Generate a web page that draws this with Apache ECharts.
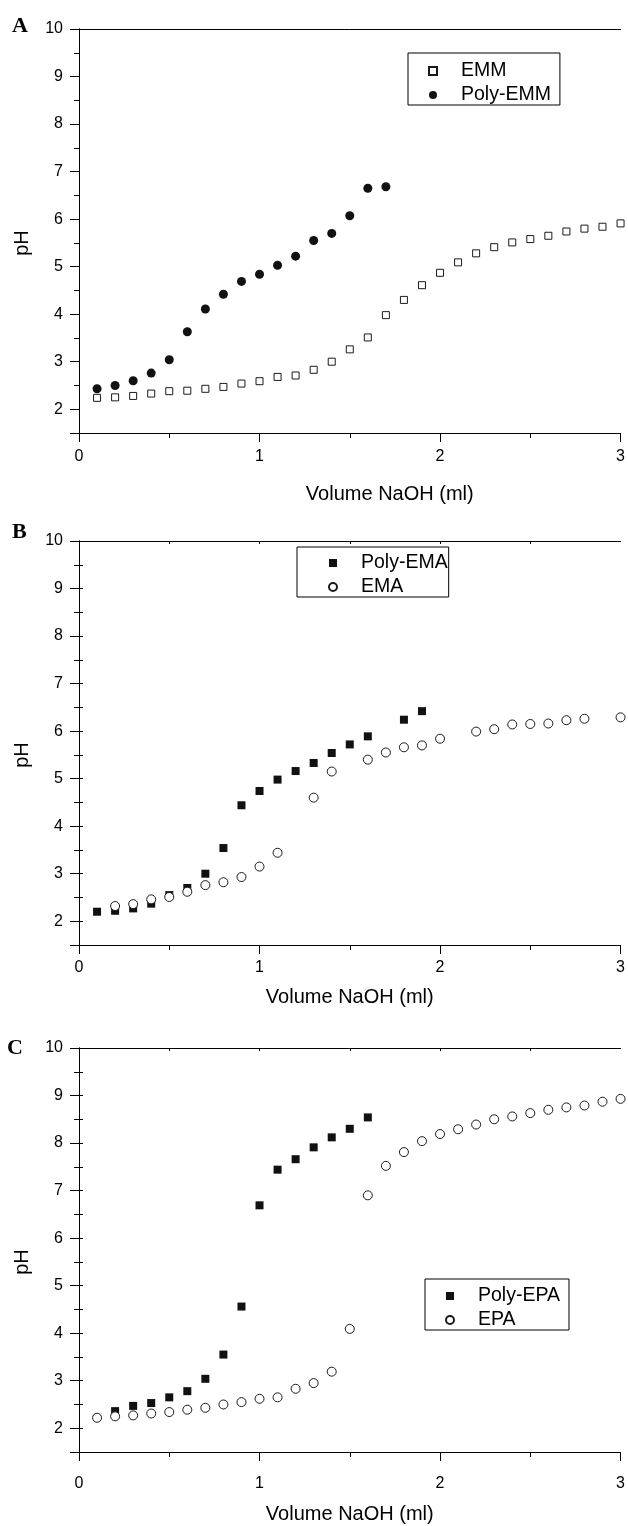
<!DOCTYPE html>
<html>
<head>
<meta charset="utf-8">
<style>
  html, body { margin: 0; padding: 0; background: #fff; }
  #main { width: 628px; height: 1526px; }
</style>
<script src="https://cdn.jsdelivr.net/npm/echarts@6/dist/echarts.min.js"></script>
</head>
<body>
<div id="main"></div>
<script>
// ---- data ----
// A
const emmX = [0.1, 0.2, 0.3, 0.4, 0.5, 0.6, 0.7, 0.8, 0.9, 1.0, 1.1, 1.2, 1.3, 1.4, 1.5, 1.6, 1.7, 1.8, 1.9, 2.0, 2.1, 2.2, 2.3, 2.4, 2.5, 2.6, 2.7, 2.8, 2.9, 3.0];
const emmPH = [2.24, 2.25, 2.28, 2.33, 2.38, 2.39, 2.43, 2.47, 2.54, 2.59, 2.68, 2.71, 2.83, 3.00, 3.26, 3.51, 3.98, 4.30, 4.61, 4.87, 5.09, 5.28, 5.41, 5.51, 5.58, 5.65, 5.74, 5.80, 5.84, 5.91];
const polyEmmX = [0.1, 0.2, 0.3, 0.4, 0.5, 0.6, 0.7, 0.8, 0.9, 1.0, 1.1, 1.2, 1.3, 1.4, 1.5, 1.6, 1.7];
const polyEmmPH = [2.43, 2.50, 2.60, 2.76, 3.04, 3.63, 4.11, 4.42, 4.69, 4.84, 5.03, 5.22, 5.55, 5.70, 6.07, 6.65, 6.68];
// B
const polyEmaX = [0.1, 0.2, 0.3, 0.4, 0.5, 0.6, 0.7, 0.8, 0.9, 1.0, 1.1, 1.2, 1.3, 1.4, 1.5, 1.6, 1.8, 1.9];
const polyEmaPH = [2.20, 2.22, 2.27, 2.37, 2.55, 2.70, 3.00, 3.54, 4.44, 4.74, 4.98, 5.16, 5.33, 5.54, 5.72, 5.89, 6.24, 6.42];
const emaX = [0.2, 0.3, 0.4, 0.5, 0.6, 0.7, 0.8, 0.9, 1.0, 1.1, 1.3, 1.4, 1.6, 1.7, 1.8, 1.9, 2.0, 2.2, 2.3, 2.4, 2.5, 2.6, 2.7, 2.8, 3.0];
const emaPH = [2.32, 2.36, 2.46, 2.51, 2.62, 2.76, 2.82, 2.93, 3.15, 3.44, 4.60, 5.15, 5.40, 5.55, 5.66, 5.70, 5.84, 5.99, 6.04, 6.14, 6.15, 6.16, 6.23, 6.26, 6.29];
// C
const polyEpaX = [0.2, 0.3, 0.4, 0.5, 0.6, 0.7, 0.8, 0.9, 1.0, 1.1, 1.2, 1.3, 1.4, 1.5, 1.6];
const polyEpaPH = [2.36, 2.47, 2.53, 2.65, 2.78, 3.04, 3.55, 4.56, 6.69, 7.44, 7.66, 7.91, 8.12, 8.30, 8.54];
const epaX = [0.1, 0.2, 0.3, 0.4, 0.5, 0.6, 0.7, 0.8, 0.9, 1.0, 1.1, 1.2, 1.3, 1.4, 1.5, 1.6, 1.7, 1.8, 1.9, 2.0, 2.1, 2.2, 2.3, 2.4, 2.5, 2.6, 2.7, 2.8, 2.9, 3.0];
const epaPH = [2.22, 2.25, 2.27, 2.31, 2.34, 2.39, 2.43, 2.50, 2.55, 2.62, 2.65, 2.83, 2.95, 3.19, 4.09, 6.90, 7.52, 7.81, 8.04, 8.19, 8.29, 8.39, 8.50, 8.56, 8.63, 8.70, 8.75, 8.79, 8.87, 8.93];

// ticks
const xMajorTicks = [0, 1, 2, 3];
const xMinorTicks = [0.5, 1.5, 2.5];
const yMajorTicks = [1.5, 2, 3, 4, 5, 6, 7, 8, 9, 10];
const yLabels = [2, 3, 4, 5, 6, 7, 8, 9, 10];
const yMinorTicks = [2.5, 3.5, 4.5, 5.5, 6.5, 7.5, 8.5, 9.5];
const topTicks = [0.5, 1, 1.5, 2, 2.5];
const rightTicks = [2, 2.5, 3, 3.5, 4, 4.5, 5, 5.5, 6, 6.5, 7, 7.5, 8, 8.5, 9, 9.5];

const FONT = '"Liberation Sans", Arial, sans-serif';
const SERIF = '"Liberation Serif", "Times New Roman", serif';
// square as a path so the legend keeps it square
const SQUARE = 'path://M0,0H10V10H0Z';

function pairs(xs, ys) {
  return xs.map((x, i) => [x, ys[i]]);
}

// panel layout
const panels = [
  { top: 29, letter: 'A', letterLeft: 12, letterTop: 15, labelMargin: 16, nameGap: 51, namePad: 80, edgeTicks: false,
    legend: { left: 408, top: 53, padding: [8, 9, 0, 20] },
    series: [
      { name: 'EMM', symbol: SQUARE, symbolSize: 7, open: true, data: pairs(emmX, emmPH) },
      { name: 'Poly-EMM', symbol: 'circle', symbolSize: 9, open: false, data: pairs(polyEmmX, polyEmmPH) }
    ] },
  { top: 541, letter: 'B', letterLeft: 12, letterTop: 521, labelMargin: 15, nameGap: 42, namePad: 0, edgeTicks: true,
    legend: { left: 297, top: 547, padding: [6, 1, 0, 31] },
    series: [
      { name: 'Poly-EMA', symbol: SQUARE, symbolSize: 8, open: false, data: pairs(polyEmaX, polyEmaPH) },
      { name: 'EMA', symbol: 'circle', symbolSize: 9, open: true, data: pairs(emaX, emaPH) }
    ] },
  { top: 1048, letter: 'C', letterLeft: 7, letterTop: 1037, labelMargin: 24, nameGap: 52, namePad: 0, edgeTicks: true,
    legend: { left: 425, top: 1279, padding: [7, 9, 0, 20] },
    series: [
      { name: 'Poly-EPA', symbol: SQUARE, symbolSize: 8, open: false, data: pairs(polyEpaX, polyEpaPH) },
      { name: 'EPA', symbol: 'circle', symbolSize: 9, open: true, data: pairs(epaX, epaPH) }
    ] }
];

const grid = [], xAxis = [], yAxis = [], series = [], legend = [], title = [];
const axisLine = { show: true, lineStyle: { color: '#000', width: 1 } };

panels.forEach((p, g) => {
  grid.push({ left: 79, top: p.top, width: 547, height: 404, containLabel: false });

  title.push({
    text: p.letter, left: p.letterLeft, top: p.letterTop, padding: 0,
    textStyle: { fontFamily: SERIF, fontWeight: 'bold', fontSize: 22, color: '#000' }
  });

  // bottom axis: labels + major ticks
  const xMain = xAxis.length;
  xAxis.push({
    gridIndex: g, type: 'value', position: 'bottom', min: 0, max: 3,
    axisLine: axisLine, splitLine: { show: false },
    axisTick: { show: true, inside: false, length: 9, customValues: xMajorTicks, lineStyle: { color: '#000' } },
    axisLabel: { show: true, margin: p.labelMargin, customValues: xMajorTicks, color: '#000', fontSize: 16, fontFamily: FONT },
    name: 'Volume NaOH (ml)', nameLocation: 'middle', nameGap: p.nameGap,
    nameTextStyle: { fontSize: 20, color: '#000', fontFamily: FONT, padding: [0, 0, 0, p.namePad] }
  });
  // bottom minor ticks
  xAxis.push({
    gridIndex: g, type: 'value', position: 'bottom', min: 0, max: 3,
    axisLine: { show: false }, splitLine: { show: false }, axisLabel: { show: false },
    axisTick: { show: true, inside: false, length: 5, customValues: xMinorTicks, lineStyle: { color: '#000' } }
  });
  // top border
  xAxis.push({
    gridIndex: g, type: 'value', position: 'top', min: 0, max: 3,
    axisLine: axisLine, splitLine: { show: false }, axisLabel: { show: false },
    axisTick: { show: p.edgeTicks, inside: true, length: 3, customValues: topTicks, lineStyle: { color: '#000' } }
  });

  // left axis: labels + major ticks
  const yMain = yAxis.length;
  yAxis.push({
    gridIndex: g, type: 'value', position: 'left', min: 1.5, max: 10,
    axisLine: axisLine, splitLine: { show: false },
    axisTick: { show: true, inside: false, length: 9, customValues: yMajorTicks, lineStyle: { color: '#000' } },
    axisLabel: { show: true, margin: 16, customValues: yLabels, color: '#000', fontSize: 16, fontFamily: FONT },
    name: 'pH', nameLocation: 'middle', nameGap: 47,
    nameTextStyle: { fontSize: 20, color: '#000', fontFamily: FONT, padding: [0, 24, 0, 0] }
  });
  // left minor ticks
  yAxis.push({
    gridIndex: g, type: 'value', position: 'left', min: 1.5, max: 10,
    axisLine: { show: false }, splitLine: { show: false }, axisLabel: { show: false },
    axisTick: { show: true, inside: false, length: 5, customValues: yMinorTicks, lineStyle: { color: '#000' } }
  });
  // right border
  yAxis.push({
    gridIndex: g, type: 'value', position: 'right', min: 1.5, max: 10,
    axisLine: axisLine, splitLine: { show: false }, axisLabel: { show: false },
    axisTick: { show: p.edgeTicks, inside: false, length: 4, customValues: rightTicks, lineStyle: { color: '#000' } }
  });

  p.series.forEach(s => {
    series.push({
      name: s.name, type: 'scatter', xAxisIndex: xMain, yAxisIndex: yMain,
      symbol: s.symbol, symbolSize: s.symbolSize, symbolKeepAspect: true, clip: false,
      itemStyle: s.open
        ? { color: '#fff', borderColor: '#1a1a1a', borderWidth: 1, opacity: 1 }
        : { color: '#111', borderWidth: 0, opacity: 1 },
      emphasis: { disabled: true },
      data: s.data
    });
  });

  legend.push({
    data: p.series.map(s => s.name),
    orient: 'vertical', left: p.legend.left, top: p.legend.top, padding: p.legend.padding,
    itemWidth: 46, itemHeight: 8, itemGap: 4, selectedMode: false, symbolKeepAspect: true,
    borderColor: '#000', borderWidth: 1, backgroundColor: '#fff',
    textStyle: { fontSize: 19.5, color: '#000', fontFamily: FONT }
  });
});

const chart = echarts.init(document.getElementById('main'), null, { renderer: 'canvas' });
chart.setOption({
  backgroundColor: '#fff',
  animation: false,
  title: title,
  grid: grid,
  xAxis: xAxis,
  yAxis: yAxis,
  legend: legend,
  series: series
});
</script>
</body>
</html>
